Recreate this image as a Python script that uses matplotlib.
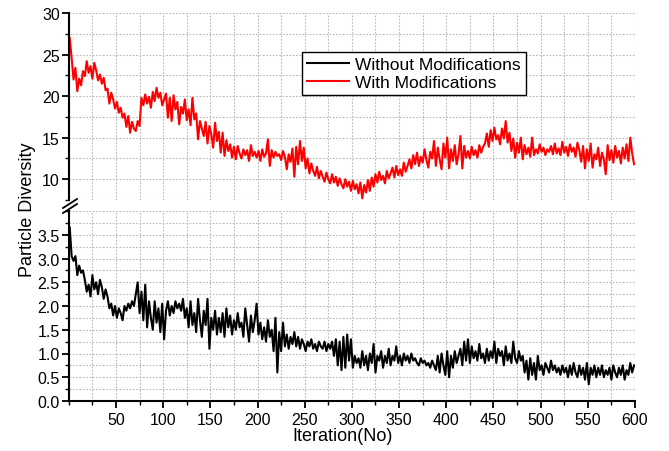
import numpy as np
import matplotlib
matplotlib.use("Agg")
import matplotlib.pyplot as plt
from matplotlib.lines import Line2D
from matplotlib.ticker import MultipleLocator, FormatStrFormatter

plt.rcParams['font.family'] = ['Liberation Sans', 'DejaVu Sans']

# iteration numbers at which diversity was sampled
iterations = np.arange(1, 600, 2)

# particle diversity, algorithm with modifications
with_mod = [
    27.0, 24.6, 22.0, 23.4, 20.6, 22.1, 21.3, 23.0, 22.4, 24.2, 22.8, 23.6, 22.1, 24.0, 23.1, 21.9, 22.6, 21.5, 22.2, 20.7,
    20.9, 19.1, 20.4, 19.6, 18.5, 19.3, 18.0, 18.6, 17.4, 17.9, 16.3, 17.6, 15.6, 16.9, 16.1, 15.8, 17.0, 16.4, 19.8, 18.9,
    20.2, 19.1, 19.9, 18.6, 20.5, 19.4, 21.0, 19.8, 20.4, 18.9, 19.6, 20.3, 17.4, 19.8, 17.0, 20.1, 18.4, 19.3, 16.6, 18.7,
    17.9, 19.6, 17.1, 18.4, 16.5, 19.8, 17.2, 17.9, 14.8, 17.0, 16.1, 15.2, 16.9, 14.3, 16.4, 15.4, 13.8, 16.8, 14.6, 15.7,
    13.2, 15.6, 12.8, 14.7, 13.4, 14.2, 12.6, 13.9, 12.4, 14.0, 13.1, 12.5, 13.6, 12.9, 13.5, 12.2, 14.1, 12.8, 13.3, 12.6,
    13.4, 12.2, 13.6, 12.7, 13.1, 14.8, 11.6, 13.5, 12.6, 13.3, 12.8, 13.0, 12.3, 13.4, 12.7, 11.2, 13.0, 12.1, 13.7, 10.3,
    13.9, 11.8, 14.6, 12.2, 13.8, 11.3, 12.5, 10.7, 11.9, 11.0, 10.4, 11.5, 10.1, 11.0, 10.3, 9.7, 10.8, 10.0, 9.5, 10.6,
    9.6, 10.3, 9.2, 10.1, 9.4, 8.9, 10.0, 9.1, 9.7, 8.6, 9.8, 8.8, 9.4, 8.3, 9.6, 7.7, 9.3, 8.4, 9.9, 8.6,
    10.2, 9.1, 10.6, 9.6, 10.9, 9.9, 10.4, 9.5, 11.0, 10.1, 10.7, 11.4, 10.2, 11.6, 10.5, 11.2, 10.4, 12.0, 10.9, 11.6,
    12.4, 11.3, 12.9, 11.8, 13.2, 11.6, 12.7, 12.0, 13.6, 12.3, 11.4, 13.3, 12.5, 14.6, 11.6, 13.8, 12.4, 11.2, 14.3, 12.6,
    15.0, 11.3, 13.6, 12.2, 14.1, 11.8, 13.0, 15.2, 11.3, 14.0, 12.6, 13.4, 12.5, 13.9, 12.9, 13.5, 12.6, 14.1, 13.2, 13.9,
    14.3, 15.5, 13.9, 15.9, 14.6, 16.2, 14.8, 15.3, 14.2, 16.1, 14.9, 17.0, 14.4, 15.6, 13.4, 14.9, 12.6, 14.4, 13.2, 15.0,
    12.4, 14.1, 13.0, 13.8, 12.7, 15.0, 12.9, 13.6, 13.1, 14.2, 13.3, 13.8, 12.9, 13.6, 13.3, 14.0, 13.0, 14.3, 13.1, 13.7,
    12.9, 14.5, 13.2, 13.9, 12.8, 14.2, 13.3, 13.8, 12.7, 14.4, 13.5, 12.1, 14.0, 11.3, 13.6, 12.2, 14.3, 11.4, 13.0, 12.4,
    13.8, 11.6, 13.2, 12.4, 10.6, 14.1, 12.3, 13.5, 12.0, 14.0, 12.6, 13.4, 11.9, 13.8, 12.5, 14.2, 12.2, 15.0, 13.1, 11.8,
]

# particle diversity, algorithm without modifications
without_mod = [
    3.65, 3.05, 2.95, 3.05, 2.65, 2.85, 2.70, 2.75, 2.55, 2.30, 2.45, 2.20, 2.65, 2.35, 2.50, 2.25, 2.55, 2.40, 2.15, 2.35,
    2.20, 1.95, 2.05, 1.80, 2.00, 1.75, 1.95, 1.85, 1.70, 2.00, 1.90, 2.05, 1.95, 2.10, 2.00, 2.25, 2.50, 1.85, 2.30, 1.70,
    2.45, 1.55, 2.10, 1.75, 1.50, 2.10, 1.65, 1.95, 1.45, 2.05, 1.30, 1.90, 2.10, 1.80, 2.00, 1.85, 2.10, 1.95, 2.05, 1.90,
    2.15, 1.75, 1.95, 1.55, 2.10, 1.60, 1.85, 1.45, 2.15, 1.70, 1.35, 1.90, 1.60, 2.15, 1.10, 1.75, 1.50, 1.90, 1.40, 1.75,
    1.45, 1.85, 1.35, 1.95, 1.55, 1.80, 1.40, 1.70, 1.50, 1.85, 1.55, 1.65, 1.35, 1.95, 1.60, 1.25, 1.80, 1.45, 1.70, 2.05,
    1.40, 1.65, 1.30, 1.55, 1.25, 1.70, 1.35, 1.50, 1.05, 1.75, 0.60, 1.45, 1.05, 1.65, 1.15, 1.40, 1.10, 1.35, 1.20, 1.45,
    1.15, 1.35, 1.10, 1.30, 1.20, 1.05, 1.25, 1.15, 1.30, 1.10, 1.20, 1.05, 1.25, 1.15, 1.10, 1.25, 1.05, 1.20, 1.10, 1.25,
    0.95, 1.30, 0.75, 1.25, 0.65, 1.35, 0.70, 1.40, 0.85, 1.30, 0.70, 0.95, 0.80, 0.90, 0.70, 1.05, 0.75, 0.95, 0.65, 1.00,
    0.80, 1.20, 0.60, 0.95, 0.85, 1.05, 0.70, 0.95, 0.80, 1.10, 0.75, 0.95, 0.85, 1.15, 0.80, 0.95, 0.75, 1.00, 0.85, 0.95,
    0.80, 1.00, 0.85, 0.90, 0.80, 0.75, 0.90, 0.80, 0.85, 0.75, 0.80, 0.70, 0.85, 0.75, 0.65, 0.95, 0.60, 1.00, 0.75, 0.55,
    1.05, 0.50, 0.95, 0.70, 1.05, 0.80, 0.95, 1.10, 0.75, 1.25, 0.85, 1.30, 0.80, 1.15, 0.90, 1.05, 0.85, 1.20, 0.90, 1.00,
    0.80, 1.10, 0.85, 1.05, 0.90, 1.25, 0.80, 1.10, 0.95, 1.05, 0.75, 1.15, 0.85, 1.00, 0.80, 1.25, 0.90, 0.80, 1.05, 0.85,
    0.95, 0.60, 0.85, 0.45, 0.90, 0.55, 0.80, 0.45, 0.95, 0.65, 0.75, 0.55, 0.80, 0.70, 0.60, 0.85, 0.65, 0.75, 0.60, 0.70,
    0.55, 0.75, 0.60, 0.70, 0.50, 0.75, 0.55, 0.80, 0.60, 0.50, 0.75, 0.55, 0.70, 0.45, 0.80, 0.35, 0.70, 0.55, 0.75, 0.50,
    0.70, 0.55, 0.75, 0.50, 0.65, 0.55, 0.70, 0.45, 0.75, 0.60, 0.50, 0.70, 0.55, 0.75, 0.45, 0.65, 0.55, 0.80, 0.60, 0.75,
]

x_ticks = [50, 100, 150, 200, 250, 300, 350, 400, 450, 500, 550, 600]
upper_yticks = [10, 15, 20, 25, 30]
lower_yticks = [0.0, 0.5, 1.0, 1.5, 2.0, 2.5, 3.0, 3.5]
series_labels = ["Without Modifications", "With Modifications"]
x_label = "Iteration(No)"
y_label = "Particle Diversity"

W, H = 669, 452
fig = plt.figure(figsize=(W / 100, H / 100), dpi=100)


def fx(px):
    return px / W


def fy(py):
    return 1 - py / H


left, right = fx(68.8), fx(635)
ax_top = fig.add_axes([left, fy(201), right - left, fy(14) - fy(201)])
ax_bot = fig.add_axes([left, fy(402), right - left, fy(212) - fy(402)])

red_line, = ax_top.plot(iterations, with_mod, color="#ff0000", lw=1.5)
black_line, = ax_bot.plot(iterations, without_mod, color="black", lw=1.5)

ax_top.set_ylim(7.5, 30)
ax_bot.set_ylim(0, 4.0)

grid_kw = dict(color="#b8b8b8", linestyle=(0, (1.5, 1.5)), linewidth=0.8)
for ax in (ax_top, ax_bot):
    ax.set_xlim(0, 600)
    ax.xaxis.set_major_locator(MultipleLocator(50))
    ax.xaxis.set_minor_locator(MultipleLocator(25))
    ax.set_xticks(x_ticks)
    for s in ("top", "right"):
        ax.spines[s].set_visible(False)
    ax.spines["left"].set_linewidth(1.5)
    ax.spines["bottom"].set_linewidth(1.5)
    ax.grid(True, which="both", **grid_kw)
    ax.set_axisbelow(True)
    ax.tick_params(which="major", direction="out", length=5, width=1.3,
                   labelsize=11.5, pad=1.5)
    ax.tick_params(which="minor", direction="out", length=3, width=1.0)
    ax.patch.set_alpha(0)

ax_top.set_yticks(upper_yticks)
ax_top.yaxis.set_minor_locator(MultipleLocator(2.5))
ax_top.yaxis.set_major_formatter(FormatStrFormatter("%d"))
ax_top.spines["bottom"].set_visible(False)
ax_top.tick_params(axis="x", which="both", bottom=False, labelbottom=False)

ax_bot.set_yticks(lower_yticks)
ax_bot.yaxis.set_minor_locator(MultipleLocator(0.25))
ax_bot.yaxis.set_major_formatter(FormatStrFormatter("%.1f"))
ax_bot.tick_params(axis="x", which="major", pad=3)

# axis-break marks on the left spine
for y0 in (205, 210):
    fig.add_artist(Line2D([fx(63), fx(77)], [fy(y0 + 4), fy(y0 - 5)],
                          color="black", lw=1.3))

fig.text(fx(27), fy(210), y_label, rotation=90, ha="center", va="center",
         fontsize=13)
fig.text(fx(343), fy(437), x_label, ha="center", va="center", fontsize=13)

leg = fig.legend([black_line, red_line], series_labels, loc="upper left",
                 bbox_to_anchor=(fx(302), fy(53)), bbox_transform=fig.transFigure,
                 borderaxespad=0, fontsize=12.5, frameon=True, fancybox=False,
                 handlelength=2.4, handletextpad=0.35, borderpad=0.3,
                 labelspacing=0.15)
leg.get_frame().set_edgecolor("black")
leg.get_frame().set_linewidth(1.0)
leg.get_frame().set_facecolor("white")
leg.get_frame().set_alpha(1)

fig.savefig("out.png", dpi=100)
